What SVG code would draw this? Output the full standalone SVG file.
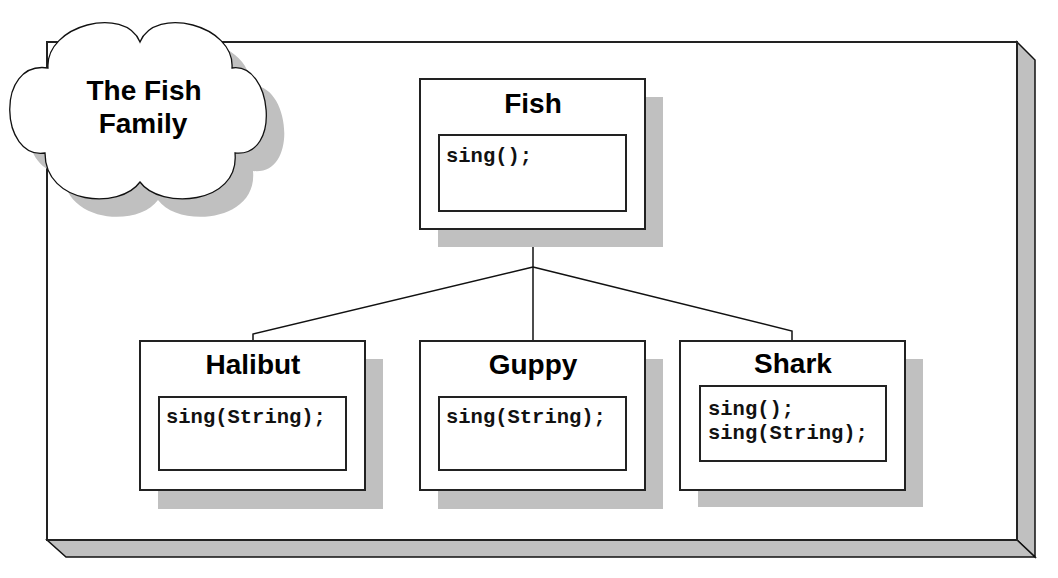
<svg xmlns="http://www.w3.org/2000/svg" width="1058" height="578" viewBox="0 0 1058 578">
<style>
.face{fill:#fff;stroke:#222;stroke-width:2}
.shadow{fill:#c0c0c0;stroke:none}
.side{fill:#c0c0c0;stroke:#111;stroke-width:1.5;stroke-linejoin:miter}
.title{font-family:"Liberation Sans",Arial,sans-serif;font-weight:bold;font-size:28px;fill:#000;text-anchor:middle}
.code{font-family:"Liberation Mono","Courier New",monospace;font-weight:bold;font-size:20.5px;fill:#111}
.conn{fill:none;stroke:#111;stroke-width:1.5}
</style>
<rect width="1058" height="578" fill="#fff"/>
<g id="frame">
<polygon class="side" points="1017,42 1035,60 1035,557 1017,540"/>
<polygon class="side" points="47,540 1017,540 1035,557 66,557"/>
<rect x="47" y="42" width="970" height="498" class="face"/>
</g>
<g id="cloud">
<path class="shadow" transform="translate(18,18)" d="M48,68 C45,25 125,5 140,42 C155,5 235,25 232,68 C272,62 282,158 235,153 C240,205 160,210 140,182 C120,210 45,205 45,153 C0,160 -5,60 48,68 Z"/>
<path fill="#fff" stroke="#111" stroke-width="1.3" d="M48,68 C45,25 125,5 140,42 C155,5 235,25 232,68 C272,62 282,158 235,153 C240,205 160,210 140,182 C120,210 45,205 45,153 C0,160 -5,60 48,68 Z"/>
<text class="title" x="144" y="100">The Fish</text>
<text class="title" x="143" y="133">Family</text>
</g>
<g id="connectors">
<path class="conn" d="M533,229 V340"/>
<path class="conn" d="M533,267 L253,334 V340"/>
<path class="conn" d="M533,267 L792,331 V340"/>
</g>
<g id="fish">
<rect class="shadow" x="438" y="97" width="225" height="150"/>
<rect class="face" x="420" y="79" width="225" height="150"/>
<text class="title" x="533" y="113">Fish</text>
<rect class="face" x="439" y="135" width="187" height="76"/>
<text class="code" x="446" y="162">sing();</text>
</g>
<g id="halibut">
<rect class="shadow" x="158" y="359" width="225" height="150"/>
<rect class="face" x="140" y="341" width="225" height="149"/>
<text class="title" x="253" y="374">Halibut</text>
<rect class="face" x="159" y="397" width="187" height="73"/>
<text class="code" x="166" y="423">sing(String);</text>
</g>
<g id="guppy">
<rect class="shadow" x="438" y="359" width="225" height="150"/>
<rect class="face" x="420" y="341" width="225" height="149"/>
<text class="title" x="533" y="374">Guppy</text>
<rect class="face" x="439" y="397" width="187" height="73"/>
<text class="code" x="446" y="423">sing(String);</text>
</g>
<g id="shark">
<rect class="shadow" x="698" y="359" width="225" height="148"/>
<rect class="face" x="680" y="341" width="225" height="149"/>
<text class="title" x="793" y="373">Shark</text>
<rect class="face" x="700" y="386" width="186" height="75"/>
<text class="code" x="708" y="415">sing();</text>
<text class="code" x="708" y="439">sing(String);</text>
</g>
</svg>
